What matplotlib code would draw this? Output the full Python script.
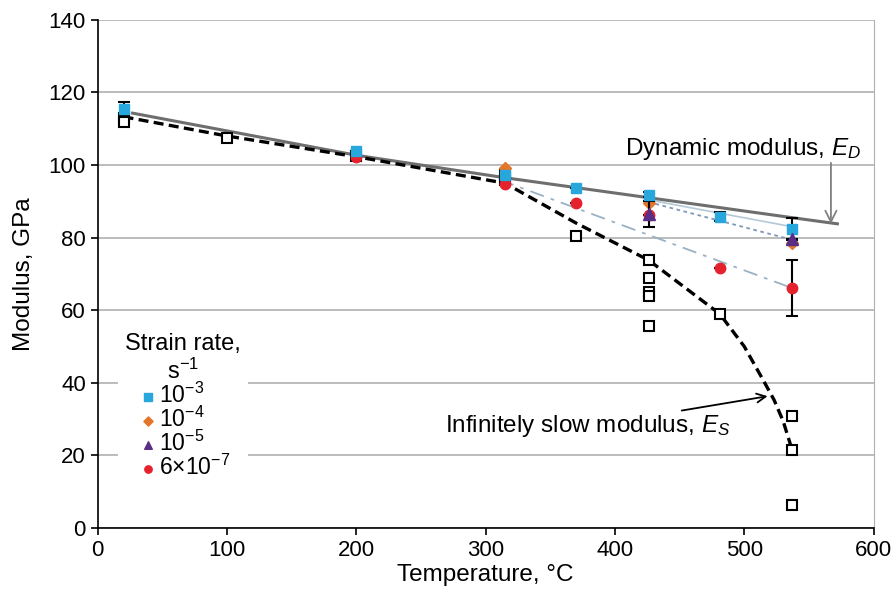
import matplotlib
matplotlib.use("Agg")
import matplotlib.pyplot as plt
import numpy as np

plt.rcParams['font.family'] = ['Liberation Sans', 'DejaVu Sans']
plt.rcParams['mathtext.fontset'] = 'custom'
plt.rcParams['mathtext.rm'] = 'Liberation Sans'
plt.rcParams['mathtext.it'] = 'Liberation Sans:italic'
plt.rcParams['mathtext.default'] = 'regular'

# ---- data ----
# Dynamic modulus E_D
ed_T = [27, 200, 315, 426, 537, 572]
ed_E = [114.3, 102.7, 96.5, 91.0, 85.5, 83.8]

# Infinitely slow modulus E_S (curve)
es_T = [20, 100, 200, 315, 370, 426, 481, 500, 515, 523, 530, 537]
es_E = [113.3, 108.0, 102.3, 95.0, 84.0, 73.8, 59.0, 50.0, 40.5, 35.3, 29.5, 21.5]

# static (open squares)
st_T = [20, 20, 100, 200, 315, 315, 370, 426, 426, 426, 426, 426, 481, 537, 537, 537]
st_E = [113.0, 111.8, 107.5, 102.5, 97.3, 96.0, 80.5, 73.8, 68.9, 65.0, 64.0, 55.7, 59.0, 30.9, 21.5, 6.3]

# strain rate 1e-3
r3_T = [20, 200, 315, 370, 426, 481, 537]
r3_E = [115.5, 103.9, 97.2, 93.7, 91.8, 85.8, 82.4]
r3_err = [2.0, 0, 0, 0, 0.7, 1.3, 3.0]
# strain rate 1e-4
r4_T = [315, 426, 537]
r4_E = [99.3, 89.6, 78.5]
# strain rate 1e-5
r5_T = [426, 537]
r5_E = [86.5, 79.6]
r5_err = [3.6, 0]
# strain rate 6e-7
r7_T = [200, 315, 370, 426, 481, 537]
r7_E = [102.2, 94.8, 89.6, 86.2, 71.6, 66.0]
r7_err = [0, 0, 0, 0, 0, 7.7]

# trend lines per strain rate
t3_T = [426, 537]; t3_E = [90.4, 83.0]
t45_T = [426, 537]; t45_E = [89.8, 79.4]
t7_T = [311, 537]; t7_E = [95.9, 66.1]

# ---- plot ----
fig = plt.figure(figsize=(8.96, 6.02), dpi=100)
ax = fig.add_axes([0.109, 0.123, 0.866, 0.844])

ax.set_xlim(0, 600)
ax.set_ylim(0, 140)
ax.set_yticks(np.arange(0, 141, 20))
ax.set_xticks(np.arange(0, 601, 100))
ax.yaxis.grid(True, color='#b0b0b0', linewidth=1.2)
ax.set_axisbelow(True)
ax.spines['right'].set_color('#b0b0b0')
ax.spines['top'].set_visible(False)
for s in ['left', 'bottom']:
    ax.spines[s].set_linewidth(1.2)
ax.tick_params(axis='both', labelsize=16, length=5, width=1.2, direction='out')
ax.set_xlabel('Temperature, °C', fontsize=17.5, labelpad=2)
ax.set_ylabel('Modulus, GPa', fontsize=17.5, labelpad=10)

# trend lines
ax.plot(t3_T, t3_E, color='#b5c8d8', lw=1.2, zorder=2)
ax.plot(t45_T, t45_E, color='#7d97b8', lw=1.3, ls=(0, (2, 2)), zorder=2)
ax.plot(t7_T, t7_E, color='#98b2c4', lw=1.3, ls=(0, (8, 4, 2, 4)), zorder=2)

ax.plot(ed_T, ed_E, color='#6e6e6e', lw=2.2, zorder=3)
ax.plot(es_T, es_E, color='black', lw=2.4, ls=(0, (3, 1.6)), zorder=3)

ax.plot(st_T, st_E, ls='none', marker='s', ms=6.5, mfc='white', mec='black', mew=1.5, zorder=4)

ekw = dict(ecolor='black', elinewidth=1.5, capsize=4, capthick=1.5, ls='none')
ax.errorbar(r3_T, r3_E, yerr=r3_err, marker='s', ms=7.5, color='#27a7dc', zorder=6, **ekw)
ax.errorbar(r4_T, r4_E, marker='D', ms=6.5, color='#e4762a', zorder=5, ls='none')
ax.errorbar(r7_T, r7_E, yerr=r7_err, marker='o', ms=7.5, color='#e4212c', zorder=5, **ekw)
ax.errorbar(r5_T, r5_E, yerr=r5_err, marker='^', ms=9, color='#5a2d86', zorder=6, **ekw)

# annotations
ax.text(590, 100.8, 'Dynamic modulus, $\\mathit{E_D}$', fontsize=17.5, ha='right', va='bottom')
ax.annotate('', xy=(567, 83.8), xytext=(567, 100.6),
            arrowprops=dict(arrowstyle='->', color='#808080', lw=1.3, shrinkA=0, shrinkB=0,
                            mutation_scale=20))
ax.annotate('Infinitely slow modulus, $\\mathit{E_S}$', xy=(518, 36.3), xytext=(489, 28.0),
            fontsize=17.5, ha='right', va='center',
            arrowprops=dict(arrowstyle='->', color='black', lw=1.3, shrinkA=0, shrinkB=0,
                            mutation_scale=16))

# legend
h3 = ax.scatter([], [], marker='s', s=30, color='#27a7dc')
h4 = ax.scatter([], [], marker='D', s=22, color='#e4762a')
h5 = ax.scatter([], [], marker='^', s=30, color='#5a2d86')
h7 = ax.scatter([], [], marker='o', s=28, color='#e4212c')
leg = ax.legend([h3, h4, h5, h7], ['10$^{−3}$', '10$^{−4}$', '10$^{−5}$', '6×10$^{−7}$'],
                title='Strain rate,\ns$^{−1}$', title_fontsize=17, fontsize=16.5,
                loc='upper left', bbox_to_anchor=(0.012, 0.42), frameon=True,
                facecolor='white', edgecolor='none', framealpha=1, fancybox=False,
                handletextpad=0.0, labelspacing=-0.05, handlelength=1.0, borderpad=0.3)
leg.get_title().set_multialignment('center')
leg.set_zorder(10)

fig.savefig('out.png', dpi=100)
